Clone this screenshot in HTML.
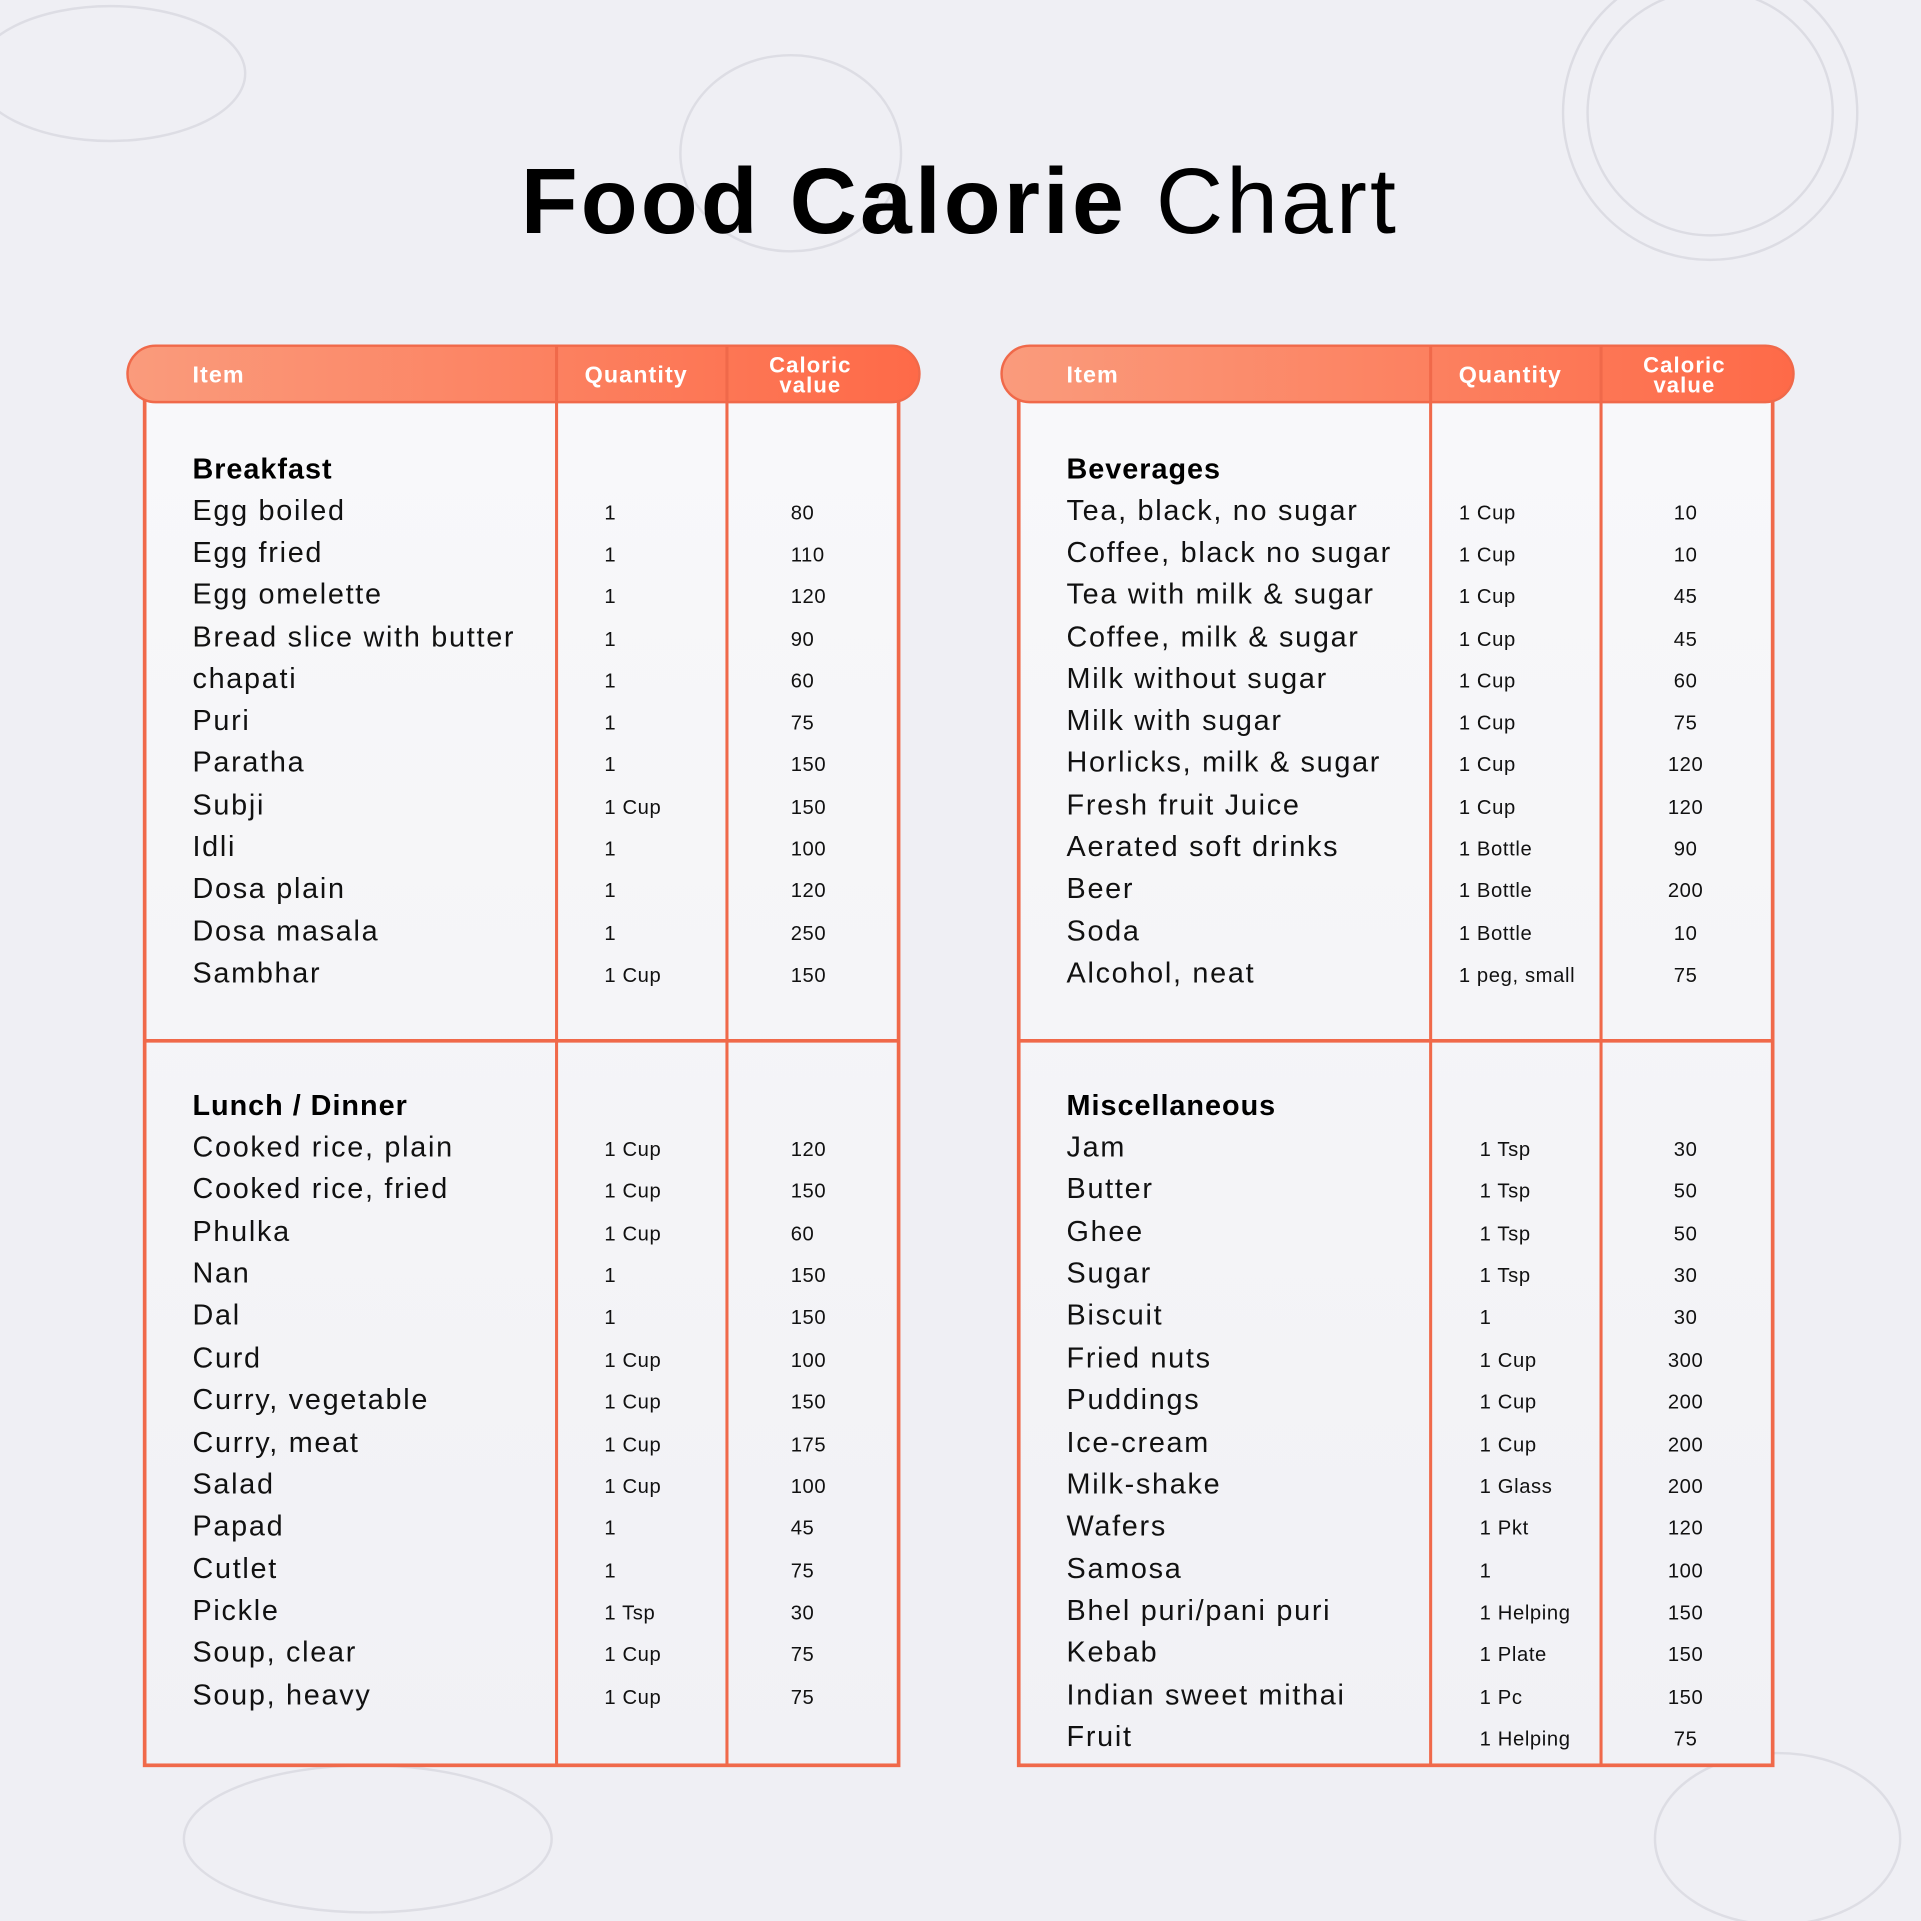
<!DOCTYPE html>
<html><head><meta charset="utf-8"><style>
html,body{margin:0;padding:0;background:#efeff4;}
svg{display:block}
text{font-family:"Liberation Sans",sans-serif;}
.it{font-size:23.5px;fill:#111;letter-spacing:1.4px;}
.hd{font-size:23.5px;font-weight:bold;fill:#000;letter-spacing:0.8px;}
.q{font-size:16.5px;fill:#111;letter-spacing:0.5px;}
.th{font-size:19px;font-weight:bold;fill:#fff;letter-spacing:0.9px;}
</style></head><body>
<svg width="1921" height="1921" viewBox="0 0 1567 1567" xmlns="http://www.w3.org/2000/svg">
<defs>
<linearGradient id="hg" x1="0" x2="1"><stop offset="0" stop-color="#fa9b7c"/><stop offset="1" stop-color="#fe6a48"/></linearGradient>
<linearGradient id="bg" x1="0" x2="0" y1="0" y2="1"><stop offset="0" stop-color="#f8f8fa"/><stop offset="1" stop-color="#f1f1f5"/></linearGradient>
</defs>
<rect width="1567" height="1567" fill="#efeff4"/>
<g fill="none" stroke="#d8d8e0" stroke-width="2" opacity="0.8">
<circle cx="1395" cy="92" r="120"/><circle cx="1395" cy="92" r="100"/>
<ellipse cx="645" cy="125" rx="90" ry="80"/>
<ellipse cx="90" cy="60" rx="110" ry="55"/>
<ellipse cx="1450" cy="1500" rx="100" ry="70"/>
<ellipse cx="300" cy="1500" rx="150" ry="60"/>
</g>
<text x="783" y="190" text-anchor="middle" style="font-size:76px;font-family:'Liberation Sans',sans-serif;fill:#000;letter-spacing:2.5px"><tspan font-weight="bold">Food Calorie</tspan> Chart</text>

<g>
<rect x="118" y="320" width="615" height="1120" fill="url(#bg)" stroke="#f0694a" stroke-width="3"/>
<line x1="454" y1="320" x2="454" y2="1440" stroke="#f0694a" stroke-width="2.5"/>
<line x1="593" y1="320" x2="593" y2="1440" stroke="#f0694a" stroke-width="2.5"/>
<line x1="118" y1="849" x2="733" y2="849" stroke="#f0694a" stroke-width="3"/>
<rect x="104" y="282" width="646" height="46" rx="23" fill="url(#hg)" stroke="#f0694a" stroke-width="2"/>
<line x1="454" y1="282" x2="454" y2="328" stroke="#f0694a" stroke-width="2.5"/>
<line x1="593" y1="282" x2="593" y2="328" stroke="#f0694a" stroke-width="2.5"/>
<text class="th" x="157" y="312">Item</text>
<text class="th" x="519" y="312" text-anchor="middle">Quantity</text>
<text class="th" x="661" y="304" text-anchor="middle" style="font-size:18px">Caloric</text>
<text class="th" x="661" y="320" text-anchor="middle" style="font-size:18px">value</text>
</g>
<g>
<rect x="831" y="320" width="615" height="1120" fill="url(#bg)" stroke="#f0694a" stroke-width="3"/>
<line x1="1167" y1="320" x2="1167" y2="1440" stroke="#f0694a" stroke-width="2.5"/>
<line x1="1306" y1="320" x2="1306" y2="1440" stroke="#f0694a" stroke-width="2.5"/>
<line x1="831" y1="849" x2="1446" y2="849" stroke="#f0694a" stroke-width="3"/>
<rect x="817" y="282" width="646" height="46" rx="23" fill="url(#hg)" stroke="#f0694a" stroke-width="2"/>
<line x1="1167" y1="282" x2="1167" y2="328" stroke="#f0694a" stroke-width="2.5"/>
<line x1="1306" y1="282" x2="1306" y2="328" stroke="#f0694a" stroke-width="2.5"/>
<text class="th" x="870" y="312">Item</text>
<text class="th" x="1232" y="312" text-anchor="middle">Quantity</text>
<text class="th" x="1374" y="304" text-anchor="middle" style="font-size:18px">Caloric</text>
<text class="th" x="1374" y="320" text-anchor="middle" style="font-size:18px">value</text>
</g>

<g dominant-baseline="central">
<text class="hd" x="157" y="383">Breakfast</text>
<text class="hd" x="157" y="902">Lunch / Dinner</text>
<text class="hd" x="870" y="383">Beverages</text>
<text class="hd" x="870" y="902">Miscellaneous</text>
</g>
<g dominant-baseline="central">
<text class="it" x="157" y="417">Egg boiled</text><text class="q" x="493" y="419">1</text><text class="q" x="645" y="419">80</text>
<text class="it" x="157" y="451">Egg fried</text><text class="q" x="493" y="453">1</text><text class="q" x="645" y="453">110</text>
<text class="it" x="157" y="485">Egg omelette</text><text class="q" x="493" y="487">1</text><text class="q" x="645" y="487">120</text>
<text class="it" x="157" y="520">Bread slice with butter</text><text class="q" x="493" y="522">1</text><text class="q" x="645" y="522">90</text>
<text class="it" x="157" y="554">chapati</text><text class="q" x="493" y="556">1</text><text class="q" x="645" y="556">60</text>
<text class="it" x="157" y="588">Puri</text><text class="q" x="493" y="590">1</text><text class="q" x="645" y="590">75</text>
<text class="it" x="157" y="622">Paratha</text><text class="q" x="493" y="624">1</text><text class="q" x="645" y="624">150</text>
<text class="it" x="157" y="657">Subji</text><text class="q" x="493" y="659">1 Cup</text><text class="q" x="645" y="659">150</text>
<text class="it" x="157" y="691">Idli</text><text class="q" x="493" y="693">1</text><text class="q" x="645" y="693">100</text>
<text class="it" x="157" y="725">Dosa plain</text><text class="q" x="493" y="727">1</text><text class="q" x="645" y="727">120</text>
<text class="it" x="157" y="760">Dosa masala</text><text class="q" x="493" y="762">1</text><text class="q" x="645" y="762">250</text>
<text class="it" x="157" y="794">Sambhar</text><text class="q" x="493" y="796">1 Cup</text><text class="q" x="645" y="796">150</text>
<text class="it" x="157" y="936">Cooked rice, plain</text><text class="q" x="493" y="938">1 Cup</text><text class="q" x="645" y="938">120</text>
<text class="it" x="157" y="970">Cooked rice, fried</text><text class="q" x="493" y="972">1 Cup</text><text class="q" x="645" y="972">150</text>
<text class="it" x="157" y="1005">Phulka</text><text class="q" x="493" y="1007">1 Cup</text><text class="q" x="645" y="1007">60</text>
<text class="it" x="157" y="1039">Nan</text><text class="q" x="493" y="1041">1</text><text class="q" x="645" y="1041">150</text>
<text class="it" x="157" y="1073">Dal</text><text class="q" x="493" y="1075">1</text><text class="q" x="645" y="1075">150</text>
<text class="it" x="157" y="1108">Curd</text><text class="q" x="493" y="1110">1 Cup</text><text class="q" x="645" y="1110">100</text>
<text class="it" x="157" y="1142">Curry, vegetable</text><text class="q" x="493" y="1144">1 Cup</text><text class="q" x="645" y="1144">150</text>
<text class="it" x="157" y="1177">Curry, meat</text><text class="q" x="493" y="1179">1 Cup</text><text class="q" x="645" y="1179">175</text>
<text class="it" x="157" y="1211">Salad</text><text class="q" x="493" y="1213">1 Cup</text><text class="q" x="645" y="1213">100</text>
<text class="it" x="157" y="1245">Papad</text><text class="q" x="493" y="1247">1</text><text class="q" x="645" y="1247">45</text>
<text class="it" x="157" y="1280">Cutlet</text><text class="q" x="493" y="1282">1</text><text class="q" x="645" y="1282">75</text>
<text class="it" x="157" y="1314">Pickle</text><text class="q" x="493" y="1316">1 Tsp</text><text class="q" x="645" y="1316">30</text>
<text class="it" x="157" y="1348">Soup, clear</text><text class="q" x="493" y="1350">1 Cup</text><text class="q" x="645" y="1350">75</text>
<text class="it" x="157" y="1383">Soup, heavy</text><text class="q" x="493" y="1385">1 Cup</text><text class="q" x="645" y="1385">75</text>
</g>
<g dominant-baseline="central">
<g text-anchor="start">
<text class="it" x="870" y="417">Tea, black, no sugar</text><text class="q" x="1190" y="419">1 Cup</text>
<text class="it" x="870" y="451">Coffee, black no sugar</text><text class="q" x="1190" y="453">1 Cup</text>
<text class="it" x="870" y="485">Tea with milk &amp; sugar</text><text class="q" x="1190" y="487">1 Cup</text>
<text class="it" x="870" y="520">Coffee, milk &amp; sugar</text><text class="q" x="1190" y="522">1 Cup</text>
<text class="it" x="870" y="554">Milk without sugar</text><text class="q" x="1190" y="556">1 Cup</text>
<text class="it" x="870" y="588">Milk with sugar</text><text class="q" x="1190" y="590">1 Cup</text>
<text class="it" x="870" y="622">Horlicks, milk &amp; sugar</text><text class="q" x="1190" y="624">1 Cup</text>
<text class="it" x="870" y="657">Fresh fruit Juice</text><text class="q" x="1190" y="659">1 Cup</text>
<text class="it" x="870" y="691">Aerated soft drinks</text><text class="q" x="1190" y="693">1 Bottle</text>
<text class="it" x="870" y="725">Beer</text><text class="q" x="1190" y="727">1 Bottle</text>
<text class="it" x="870" y="760">Soda</text><text class="q" x="1190" y="762">1 Bottle</text>
<text class="it" x="870" y="794">Alcohol, neat</text><text class="q" x="1190" y="796">1 peg, small</text>
<text class="it" x="870" y="936">Jam</text><text class="q" x="1207" y="938">1 Tsp</text>
<text class="it" x="870" y="970">Butter</text><text class="q" x="1207" y="972">1 Tsp</text>
<text class="it" x="870" y="1005">Ghee</text><text class="q" x="1207" y="1007">1 Tsp</text>
<text class="it" x="870" y="1039">Sugar</text><text class="q" x="1207" y="1041">1 Tsp</text>
<text class="it" x="870" y="1073">Biscuit</text><text class="q" x="1207" y="1075">1</text>
<text class="it" x="870" y="1108">Fried nuts</text><text class="q" x="1207" y="1110">1 Cup</text>
<text class="it" x="870" y="1142">Puddings</text><text class="q" x="1207" y="1144">1 Cup</text>
<text class="it" x="870" y="1177">Ice-cream</text><text class="q" x="1207" y="1179">1 Cup</text>
<text class="it" x="870" y="1211">Milk-shake</text><text class="q" x="1207" y="1213">1 Glass</text>
<text class="it" x="870" y="1245">Wafers</text><text class="q" x="1207" y="1247">1 Pkt</text>
<text class="it" x="870" y="1280">Samosa</text><text class="q" x="1207" y="1282">1</text>
<text class="it" x="870" y="1314">Bhel puri/pani puri</text><text class="q" x="1207" y="1316">1 Helping</text>
<text class="it" x="870" y="1348">Kebab</text><text class="q" x="1207" y="1350">1 Plate</text>
<text class="it" x="870" y="1383">Indian sweet mithai</text><text class="q" x="1207" y="1385">1 Pc</text>
<text class="it" x="870" y="1417">Fruit</text><text class="q" x="1207" y="1419">1 Helping</text>
</g>
<g text-anchor="middle">
<text class="q" x="1375" y="419">10</text><text class="q" x="1375" y="453">10</text><text class="q" x="1375" y="487">45</text><text class="q" x="1375" y="522">45</text>
<text class="q" x="1375" y="556">60</text><text class="q" x="1375" y="590">75</text><text class="q" x="1375" y="624">120</text><text class="q" x="1375" y="659">120</text>
<text class="q" x="1375" y="693">90</text><text class="q" x="1375" y="727">200</text><text class="q" x="1375" y="762">10</text><text class="q" x="1375" y="796">75</text>
<text class="q" x="1375" y="938">30</text><text class="q" x="1375" y="972">50</text><text class="q" x="1375" y="1007">50</text><text class="q" x="1375" y="1041">30</text>
<text class="q" x="1375" y="1075">30</text><text class="q" x="1375" y="1110">300</text><text class="q" x="1375" y="1144">200</text><text class="q" x="1375" y="1179">200</text>
<text class="q" x="1375" y="1213">200</text><text class="q" x="1375" y="1247">120</text><text class="q" x="1375" y="1282">100</text><text class="q" x="1375" y="1316">150</text>
<text class="q" x="1375" y="1350">150</text><text class="q" x="1375" y="1385">150</text><text class="q" x="1375" y="1419">75</text>
</g>
</g>
</svg>
</body></html>
